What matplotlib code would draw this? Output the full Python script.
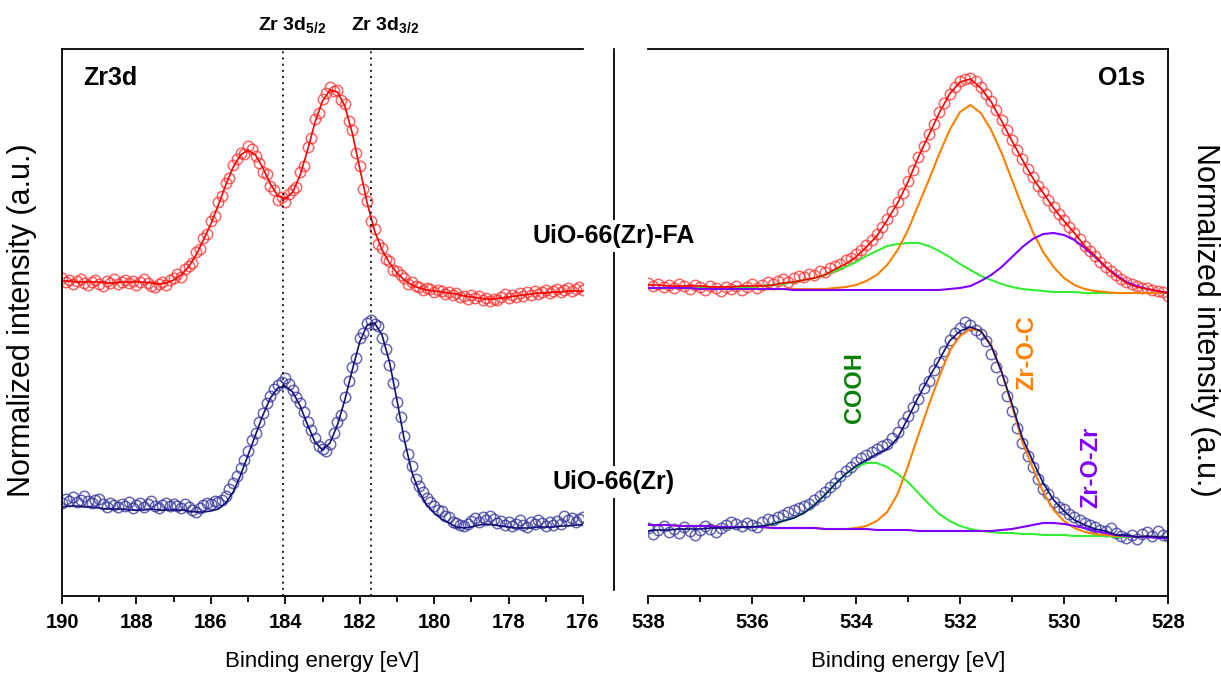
import numpy as np
import matplotlib
matplotlib.use('Agg')
import matplotlib.pyplot as plt
from matplotlib.lines import Line2D

plt.rcParams['font.family'] = ['Liberation Sans', 'DejaVu Sans']
plt.rcParams['mathtext.fontset'] = 'custom'
plt.rcParams['mathtext.rm'] = 'Liberation Sans'
plt.rcParams['mathtext.bf'] = 'Liberation Sans:bold'

# ---------------- Zr3d, 190 -> 176 eV ----------------
zr_e_data = np.linspace(190.0, 176.0, 141)   # 0.1 eV steps
zr_e_fit = np.linspace(190.0, 176.0, 71)     # 0.2 eV steps

zr_fa_data = [
    3.18, 3.14, 3.16, 3.12, 3.15, 3.17, 3.13, 3.11, 3.14, 3.16,
    3.12, 3.10, 3.15, 3.13, 3.17, 3.12, 3.14, 3.16, 3.13, 3.15,
    3.11, 3.14, 3.17, 3.13, 3.10, 3.09, 3.12, 3.14, 3.11, 3.16,
    3.18, 3.22, 3.19, 3.27, 3.30, 3.33, 3.44, 3.47, 3.58, 3.62,
    3.75, 3.80, 3.94, 4.00, 4.13, 4.18, 4.31, 4.37, 4.43, 4.42,
    4.50, 4.47, 4.40, 4.33, 4.24, 4.22, 4.10, 4.06, 3.96, 3.99,
    3.94, 4.02, 4.06, 4.09, 4.24, 4.30, 4.49, 4.58, 4.77, 4.83,
    4.97, 5.03, 5.09, 5.05, 5.06, 4.96, 4.92, 4.75, 4.66, 4.43,
    4.30, 4.07, 3.95, 3.75, 3.67, 3.52, 3.48, 3.37, 3.35, 3.26,
    3.25, 3.21, 3.18, 3.12, 3.14, 3.10, 3.09, 3.06, 3.08, 3.07,
    3.04, 3.06, 3.05, 3.02, 3.04, 3.01, 3.03, 2.99, 3.00, 2.97,
    3.01, 2.98, 3.00, 2.96, 2.98, 2.95, 2.97, 2.96, 2.99, 3.02,
    2.98, 3.01, 2.99, 3.03, 3.00, 3.04, 3.01, 3.05, 3.02, 3.04,
    3.06, 3.03, 3.05, 3.07, 3.04, 3.06, 3.08, 3.05, 3.07, 3.09,
    3.06]

zr_fa_fit = [
    3.15, 3.15, 3.14, 3.14, 3.14, 3.14, 3.13, 3.13, 3.14, 3.14,
    3.14, 3.14, 3.13, 3.12, 3.13, 3.16, 3.21, 3.29, 3.41, 3.56,
    3.72, 3.91, 4.11, 4.29, 4.41, 4.46, 4.41, 4.28, 4.12, 4.00,
    3.97, 4.04, 4.21, 4.46, 4.74, 4.95, 5.06, 5.04, 4.90, 4.63,
    4.28, 3.93, 3.65, 3.46, 3.33, 3.23, 3.16, 3.11, 3.08, 3.06,
    3.05, 3.04, 3.03, 3.02, 3.00, 2.99, 2.98, 2.97, 2.97, 2.98,
    2.99, 3.00, 3.01, 3.02, 3.03, 3.03, 3.04, 3.04, 3.05, 3.05,
    3.05]

zr_uio_data = [
    0.93, 0.97, 0.95, 0.99, 0.94, 0.96, 1.00, 0.95, 0.93, 0.96,
    0.97, 0.92, 0.89, 0.93, 0.91, 0.89, 0.92, 0.90, 0.94, 0.88,
    0.91, 0.93, 0.89, 0.92, 0.95, 0.90, 0.88, 0.91, 0.93, 0.90,
    0.92, 0.90, 0.88, 0.92, 0.89, 0.86, 0.84, 0.88, 0.91, 0.93,
    0.92, 0.95, 0.94, 0.96, 1.00, 1.07, 1.13, 1.20, 1.28, 1.36,
    1.45, 1.56, 1.63, 1.74, 1.83, 1.93, 2.00, 2.07, 2.11, 2.14,
    2.18, 2.12, 2.06, 1.99, 1.93, 1.84, 1.74, 1.66, 1.58, 1.50,
    1.47, 1.45, 1.52, 1.63, 1.74, 1.81, 1.99, 2.15, 2.29, 2.38,
    2.58, 2.63, 2.73, 2.76, 2.72, 2.70, 2.58, 2.47, 2.31, 2.13,
    1.94, 1.79, 1.60, 1.42, 1.30, 1.17, 1.10, 1.04, 0.98, 0.94,
    0.90, 0.86, 0.85, 0.80, 0.79, 0.74, 0.73, 0.71, 0.70, 0.72,
    0.75, 0.78, 0.74, 0.79, 0.76, 0.80, 0.77, 0.73, 0.75, 0.71,
    0.74, 0.70, 0.72, 0.76, 0.71, 0.69, 0.74, 0.72, 0.76, 0.73,
    0.70, 0.74, 0.71, 0.75, 0.72, 0.80, 0.76, 0.78, 0.74, 0.77,
    0.79]

zr_uio_fit = [
    0.89, 0.90, 0.90, 0.89, 0.89, 0.88, 0.87, 0.87, 0.87, 0.86,
    0.86, 0.86, 0.87, 0.86, 0.86, 0.86, 0.86, 0.85, 0.84, 0.84,
    0.85, 0.87, 0.93, 1.04, 1.21, 1.41, 1.61, 1.81, 1.98, 2.08,
    2.10, 2.04, 1.90, 1.71, 1.54, 1.46, 1.53, 1.71, 1.96, 2.26,
    2.54, 2.71, 2.73, 2.61, 2.34, 1.96, 1.56, 1.24, 1.04, 0.91,
    0.83, 0.77, 0.73, 0.69, 0.68, 0.69, 0.71, 0.72, 0.71, 0.70,
    0.69, 0.68, 0.68, 0.68, 0.69, 0.69, 0.69, 0.70, 0.70, 0.71,
    0.71]

zr_ticks = [190, 188, 186, 184, 182, 180, 178, 176]
zr_peaks = [184.05, 181.7]

# ---------------- O1s, 538 -> 528 eV ----------------
o_e_data = np.linspace(538.0, 528.0, 101)
o_e_fit = np.linspace(538.0, 528.0, 51)

o_fa_data = [
    3.13, 3.10, 3.12, 3.09, 3.11, 3.08, 3.12, 3.10, 3.07, 3.11,
    3.09, 3.06, 3.10, 3.08, 3.05, 3.09, 3.07, 3.10, 3.06, 3.09,
    3.12, 3.08, 3.11, 3.14, 3.12, 3.15, 3.17, 3.14, 3.18, 3.20,
    3.19, 3.22, 3.21, 3.25, 3.24, 3.28, 3.30, 3.32, 3.36, 3.38,
    3.42, 3.46, 3.51, 3.56, 3.62, 3.69, 3.77, 3.85, 3.94, 4.03,
    4.15, 4.26, 4.39, 4.50, 4.62, 4.72, 4.84, 4.93, 5.02, 5.09,
    5.15, 5.17, 5.18, 5.15, 5.09, 5.02, 4.95, 4.86, 4.76, 4.66,
    4.56, 4.46, 4.37, 4.27, 4.19, 4.10, 4.04, 3.96, 3.89, 3.82,
    3.76, 3.69, 3.63, 3.57, 3.50, 3.45, 3.40, 3.34, 3.29, 3.25,
    3.21, 3.17, 3.14, 3.12, 3.10, 3.08, 3.08, 3.06, 3.05, 3.04,
    3.00]

o_fa_fit = [
    3.11, 3.11, 3.10, 3.10, 3.10, 3.10, 3.09, 3.09, 3.09, 3.10,
    3.10, 3.10, 3.11, 3.13, 3.14, 3.16, 3.18, 3.21, 3.27, 3.32,
    3.39, 3.49, 3.60, 3.76, 3.93, 4.14, 4.39, 4.61, 4.83, 5.02,
    5.14, 5.17, 5.08, 4.94, 4.75, 4.55, 4.36, 4.18, 4.03, 3.88,
    3.75, 3.63, 3.50, 3.40, 3.29, 3.20, 3.13, 3.09, 3.07, 3.05,
    3.03]

o_fa_zroc = [
    3.08, 3.08, 3.08, 3.08, 3.08, 3.07, 3.07, 3.07, 3.07, 3.07,
    3.07, 3.07, 3.07, 3.07, 3.07, 3.07, 3.07, 3.07, 3.08, 3.09,
    3.11, 3.15, 3.21, 3.31, 3.46, 3.66, 3.91, 4.16, 4.42, 4.66,
    4.84, 4.91, 4.83, 4.66, 4.43, 4.16, 3.89, 3.64, 3.44, 3.29,
    3.18, 3.11, 3.07, 3.05, 3.04, 3.03, 3.03, 3.03, 3.03, 3.03,
    3.03]

o_fa_cooh = [
    3.08, 3.08, 3.08, 3.08, 3.08, 3.08, 3.08, 3.08, 3.08, 3.09,
    3.09, 3.10, 3.11, 3.12, 3.14, 3.16, 3.18, 3.21, 3.25, 3.29,
    3.34, 3.40, 3.45, 3.50, 3.52, 3.53, 3.53, 3.50, 3.45, 3.39,
    3.32, 3.26, 3.20, 3.16, 3.12, 3.09, 3.07, 3.06, 3.05, 3.04,
    3.04, 3.04, 3.03, 3.03, 3.03, 3.03, 3.03, 3.03, 3.03, 3.03,
    3.03]

o_fa_zroz = [
    3.08, 3.08, 3.08, 3.08, 3.08, 3.07, 3.07, 3.07, 3.07, 3.07,
    3.07, 3.07, 3.07, 3.07, 3.06, 3.06, 3.06, 3.06, 3.06, 3.06,
    3.06, 3.06, 3.06, 3.06, 3.06, 3.06, 3.06, 3.06, 3.06, 3.07,
    3.08, 3.10, 3.15, 3.21, 3.29, 3.39, 3.49, 3.57, 3.62, 3.63,
    3.61, 3.56, 3.48, 3.39, 3.29, 3.21, 3.14, 3.10, 3.07, 3.05,
    3.03]

o_uio_data = [
    0.68, 0.62, 0.66, 0.70, 0.64, 0.67, 0.63, 0.69, 0.65, 0.61,
    0.66, 0.70, 0.67, 0.64, 0.68, 0.71, 0.74, 0.72, 0.70, 0.73,
    0.71, 0.69, 0.74, 0.77, 0.76, 0.79, 0.81, 0.84, 0.86, 0.88,
    0.90, 0.92, 0.96, 1.00, 1.04, 1.09, 1.13, 1.20, 1.25, 1.29,
    1.34, 1.38, 1.41, 1.44, 1.47, 1.50, 1.52, 1.58, 1.64, 1.73,
    1.80, 1.89, 1.97, 2.08, 2.15, 2.26, 2.34, 2.45, 2.56, 2.63,
    2.68, 2.74, 2.71, 2.66, 2.62, 2.55, 2.42, 2.29, 2.16, 2.00,
    1.85, 1.68, 1.53, 1.40, 1.29, 1.17, 1.07, 1.02, 0.94, 0.89,
    0.87, 0.82, 0.79, 0.76, 0.73, 0.71, 0.69, 0.66, 0.65, 0.68,
    0.63, 0.60, 0.58, 0.61, 0.57, 0.62, 0.64, 0.60, 0.65, 0.61,
    0.60]

o_uio_fit = [
    0.65, 0.66, 0.66, 0.67, 0.67, 0.67, 0.68, 0.68, 0.68, 0.69,
    0.69, 0.70, 0.72, 0.75, 0.78, 0.83, 0.91, 1.01, 1.12, 1.22,
    1.30, 1.36, 1.42, 1.47, 1.58, 1.78, 1.99, 2.18, 2.36, 2.55,
    2.65, 2.69, 2.65, 2.50, 2.24, 1.92, 1.58, 1.35, 1.13, 0.96,
    0.85, 0.76, 0.71, 0.67, 0.65, 0.61, 0.61, 0.59, 0.60, 0.59,
    0.59]

o_uio_zroc = [
    0.71, 0.71, 0.71, 0.70, 0.70, 0.70, 0.70, 0.69, 0.69, 0.69,
    0.69, 0.69, 0.68, 0.68, 0.68, 0.68, 0.68, 0.67, 0.67, 0.67,
    0.68, 0.70, 0.75, 0.84, 1.02, 1.30, 1.61, 1.91, 2.19, 2.45,
    2.60, 2.67, 2.65, 2.51, 2.24, 1.90, 1.54, 1.28, 1.04, 0.86,
    0.75, 0.68, 0.64, 0.62, 0.61, 0.60, 0.60, 0.59, 0.59, 0.59,
    0.58]

o_uio_cooh = [
    0.71, 0.71, 0.71, 0.70, 0.70, 0.70, 0.70, 0.69, 0.69, 0.69,
    0.69, 0.70, 0.72, 0.75, 0.78, 0.83, 0.91, 1.01, 1.12, 1.22,
    1.29, 1.33, 1.33, 1.29, 1.22, 1.14, 1.03, 0.92, 0.82, 0.75,
    0.70, 0.67, 0.65, 0.64, 0.63, 0.63, 0.62, 0.62, 0.61, 0.61,
    0.61, 0.60, 0.60, 0.60, 0.60, 0.59, 0.59, 0.59, 0.59, 0.59,
    0.59]

o_uio_zroz = [
    0.71, 0.71, 0.71, 0.70, 0.70, 0.70, 0.70, 0.69, 0.69, 0.69,
    0.69, 0.69, 0.68, 0.68, 0.68, 0.68, 0.68, 0.67, 0.67, 0.67,
    0.67, 0.67, 0.66, 0.66, 0.66, 0.66, 0.65, 0.65, 0.65, 0.65,
    0.65, 0.65, 0.65, 0.65, 0.66, 0.67, 0.69, 0.71, 0.73, 0.73,
    0.72, 0.70, 0.68, 0.65, 0.63, 0.61, 0.60, 0.59, 0.59, 0.58,
    0.58]

o_ticks = [538, 536, 534, 532, 530, 528]

RED, RED_PT = '#ff0000', '#ff3030'
NAVY, NAVY_PT = '#10107a', '#34349a'
ORANGE, GREEN, PURPLE = '#ff8000', '#33ee33', '#8000ff'

W, H = 1221, 674
fig = plt.figure(figsize=(W / 100, H / 100), dpi=100)
ax1 = fig.add_axes([62 / W, 1 - 596 / H, 521 / W, 547 / H])
ax2 = fig.add_axes([648 / W, 1 - 596 / H, 520 / W, 547 / H])

pt = dict(ls='none', marker='o', ms=7.5, mfc='none', mew=1.1, alpha=0.75)

# Zr3d panel
ax1.plot(zr_e_data, zr_fa_data, mec=RED_PT, **pt)
ax1.plot(zr_e_fit, zr_fa_fit, color=RED, lw=1.2)
ax1.plot(zr_e_data, zr_uio_data, mec=NAVY_PT, **pt)
ax1.plot(zr_e_fit, zr_uio_fit, color=NAVY, lw=1.2)
for e in zr_peaks:
    ax1.axvline(e, color='k', ls=(0, (1.2, 2.5)), lw=1.2)

# O1s panel
ax2.plot(o_e_data, o_fa_data, mec=RED_PT, **pt)
ax2.plot(o_e_data, o_uio_data, mec=NAVY_PT, **pt)
for comps in [(o_fa_cooh, o_fa_zroc, o_fa_zroz), (o_uio_cooh, o_uio_zroc, o_uio_zroz)]:
    for y, c in zip(comps, [GREEN, ORANGE, PURPLE]):
        ax2.plot(o_e_fit, y, color=c, lw=1.5)
ax2.plot(o_e_fit, o_fa_fit, color=RED, lw=1.2)
ax2.plot(o_e_fit, o_uio_fit, color=NAVY, lw=1.2)

for ax, lim, ticks in [(ax1, (190, 176), zr_ticks), (ax2, (538, 528), o_ticks)]:
    ax.set_xlim(*lim)
    ax.set_ylim(0, 5.47)
    ax.set_yticks([])
    ax.set_xticks(ticks)
    ax.set_xticklabels([str(t) for t in ticks], fontweight='bold', fontsize=14.5)
    ax.set_xticks(np.arange(min(lim), max(lim) + 1, 1), minor=True)
    ax.tick_params(axis='x', which='major', direction='out', length=6, width=1.3, pad=6)
    ax.tick_params(axis='x', which='minor', direction='out', length=4, width=1.3)
    for s in ax.spines.values():
        s.set_linewidth(1.3)
    ax.set_xlabel('Binding energy [eV]', fontsize=16, labelpad=14)

ax1.spines['right'].set_visible(False)
ax2.spines['left'].set_visible(False)

ax1.text(0.040, 0.947, 'Zr3d', transform=ax1.transAxes, fontsize=18,
         fontweight='bold', ha='left', va='center')
ax2.text(0.956, 0.947, 'O1s', transform=ax2.transAxes, fontsize=18,
         fontweight='bold', ha='right', va='center')

ax1.text(183.82, 1.042, r'Zr 3d$_{\mathbf{5/2}}$', transform=ax1.get_xaxis_transform(),
         fontsize=14, fontweight='bold', ha='center', va='center', clip_on=False)
ax1.text(181.32, 1.042, r'Zr 3d$_{\mathbf{3/2}}$', transform=ax1.get_xaxis_transform(),
         fontsize=14, fontweight='bold', ha='center', va='center', clip_on=False)

ax2.text(534.02, 2.08, 'COOH', rotation=90, color='#0b800b', fontsize=17,
         fontweight='bold', ha='center', va='center')
ax2.text(530.71, 2.43, 'Zr-O-C', rotation=90, color=ORANGE, fontsize=17,
         fontweight='bold', ha='center', va='center')
ax2.text(529.48, 1.29, 'Zr-O-Zr', rotation=90, color=PURPLE, fontsize=17,
         fontweight='bold', ha='center', va='center')

# divider between the panels, broken by the sample names
fig.add_artist(Line2D([614 / W, 614 / W], [1 - 590 / H, 1 - 49 / H],
                      color='k', lw=1.3, transform=fig.transFigure, zorder=1))
for name, ypix in [('UiO-66(Zr)-FA', 236), ('UiO-66(Zr)', 482)]:
    fig.text(614 / W, 1 - ypix / H, name, ha='center', va='center', fontsize=18,
             fontweight='bold', zorder=5,
             bbox=dict(fc='white', ec='none', pad=3))

fig.text(22 / W, 1 - 320 / H, 'Normalized intensity (a.u.)', rotation=90,
         fontsize=22, ha='center', va='center')
fig.text(1205 / W, 1 - 320 / H, 'Normalized intensity (a.u.)', rotation=270,
         fontsize=22, ha='center', va='center')

fig.savefig('out.png', dpi=100)
